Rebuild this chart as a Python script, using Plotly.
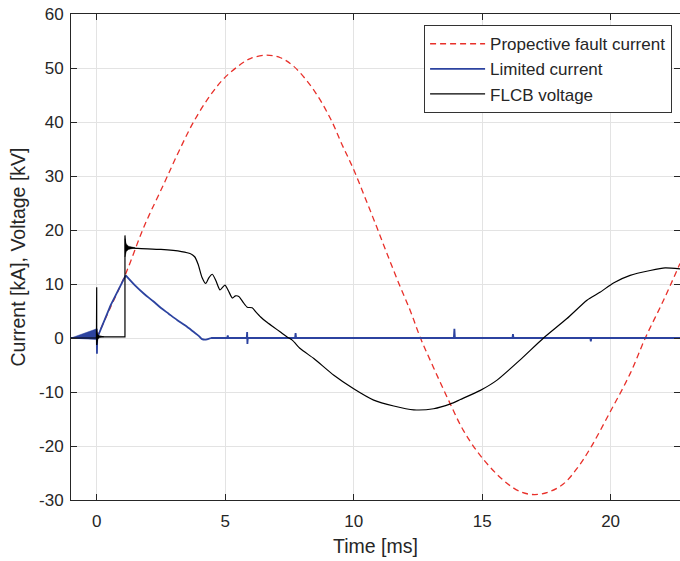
import plotly.graph_objects as go

# ---- data ----
red_t = [0.0, 0.5, 1.13, 1.84, 2.62, 3.2, 3.78, 4.43, 5.02, 5.73, 6.0, 6.6, 7.15, 7.67, 8.45, 9.1, 9.55,
         10.0, 10.46, 10.91, 11.3, 11.75, 12.2, 12.6, 13.11, 13.7, 14.28, 15.0, 15.84, 16.5, 17.05, 17.6,
         18.17, 18.7, 19.2, 19.98, 20.76, 21.35, 22.06, 22.7]
red_v = [0.0, 5.3, 11.9, 20.6, 28.6, 34.6, 40.1, 45.0, 48.4, 51.1, 51.8, 52.4, 51.9, 50.3, 45.9, 40.6, 35.8,
         31.2, 25.8, 20.4, 15.6, 10.2, 5.1, 0.0, -5.5, -11.6, -17.2, -22.2, -26.4, -28.5, -29.0, -28.5,
         -27.0, -24.1, -20.5, -13.7, -6.6, 0.0, 7.0, 13.8]

# limited current: rise, decay and the zero line with small spikes
blue_rise_t = [-1.0, -0.01, 0.0, 0.01, 0.02, 0.54, 1.13]
blue_rise_v = [0.0, 0.0, 1.7, -2.9, 0.0, 6.05, 11.6]
blue_decay_t = [1.13, 1.5, 1.84, 2.2, 2.49, 2.8, 3.14, 3.45, 3.78, 3.97, 4.1, 4.25, 4.45]
blue_decay_v = [11.6, 9.7, 8.2, 6.8, 5.6, 4.5, 3.3, 2.3, 1.1, 0.4, -0.2, -0.3, 0.0]
blue_tail_t = [4.45, 5.08, 5.1, 5.12, 5.84, 5.855, 5.865, 5.88, 7.72, 7.74, 7.76, 13.9, 13.92, 13.94,
               16.18, 16.2, 16.22, 19.21, 19.23, 19.25, 22.7]
blue_tail_v = [0.0, 0.0, 0.5, 0.0, 0.0, 1.1, -1.1, 0.0, 0.0, 0.9, 0.0, 0.0, 1.7, 0.0,
               0.0, 0.7, 0.0, 0.0, -0.6, 0.0, 0.0]
# dense oscillation before t=0 (envelope)
blue_env_t = [-1.0, 0.0, 0.0, -1.0]
blue_env_v = [0.0, 1.7, -0.3, 0.0]

# FLCB voltage: switching part and the smooth part after the jump
black_sw_t = [-1.0, -0.01, 0.0, 0.0, 0.03, 0.3, 1.08, 1.1, 1.1, 1.13]
black_sw_v = [0.0, 0.0, 9.4, -1.3, 0.4, 0.2, 0.2, 0.2, 19.0, 16.8]
black_t = [1.13, 1.6, 2.5, 3.3, 3.65, 3.82, 3.95, 4.1, 4.24, 4.37, 4.5, 4.64, 4.8, 4.99, 5.13, 5.28,
           5.4, 5.53, 5.7, 5.86, 6.05, 6.2, 6.38, 6.6, 6.89, 7.15, 7.41, 7.61, 7.93, 8.45, 9.23, 10.0,
           10.78, 11.56, 12.34, 13.11, 13.77, 14.15, 14.93, 15.58, 16.49, 17.39, 18.3, 19.08, 19.6,
           20.11, 20.76, 21.54, 22.12, 22.7]
black_v = [16.8, 16.6, 16.4, 16.0, 15.6, 15.0, 13.6, 11.2, 10.1, 11.2, 11.8, 10.6, 8.9, 9.8, 8.7, 7.4,
           7.8, 7.7, 6.6, 5.7, 5.6, 4.8, 3.9, 3.0, 2.0, 1.1, 0.2, -0.4, -2.0, -3.8, -6.9, -9.4,
           -11.5, -12.6, -13.3, -13.1, -12.2, -11.4, -9.7, -7.8, -4.0, 0.0, 3.6, 7.0, 8.5,
           10.2, 11.6, 12.5, 13.0, 12.8]
# ringing envelopes
black_ring1_t = [0.0, 0.04, 0.1, 0.28, 0.1, 0.04, 0.0, 0.0]
black_ring1_v = [1.4, 0.7, 0.35, 0.2, 0.05, -0.3, -1.3, 1.4]
black_ring2_t = [1.1, 1.15, 1.24, 1.5, 1.24, 1.15, 1.1, 1.1]
black_ring2_v = [18.4, 17.4, 17.0, 16.7, 16.4, 16.0, 15.0, 18.4]

x_ticks = [0, 5, 10, 15, 20]
x_ticktext = ["0", "5", "10", "15", "20"]
y_ticks = [-30, -20, -10, 0, 10, 20, 30, 40, 50, 60]
y_ticktext = ["-30", "-20", "-10", "0", "10", "20", "30", "40", "50", "60"]

RED = "#E8302A"
BLUE = "#2C43A0"
BLACK = "#000000"
FONT = "Liberation Sans, Arial, sans-serif"
TXT = "#262626"

fig = go.Figure()
fig.add_trace(go.Scatter(x=red_t, y=red_v, mode="lines", name="Propective fault current",
                         line=dict(color=RED, width=1.3, dash="6px,4px", shape="spline", smoothing=1.0)))
fig.add_trace(go.Scatter(x=blue_env_t, y=blue_env_v, mode="lines", fill="toself", fillcolor=BLUE,
                         line=dict(color=BLUE, width=0.5), showlegend=False, hoverinfo="skip",
                         legendgroup="blue"))
fig.add_trace(go.Scatter(x=blue_rise_t, y=blue_rise_v, mode="lines", name="Limited current",
                         line=dict(color=BLUE, width=1.8), legendgroup="blue"))
fig.add_trace(go.Scatter(x=blue_decay_t, y=blue_decay_v, mode="lines", showlegend=False,
                         line=dict(color=BLUE, width=1.8, shape="spline", smoothing=0.8), legendgroup="blue"))
fig.add_trace(go.Scatter(x=blue_tail_t, y=blue_tail_v, mode="lines", showlegend=False,
                         line=dict(color=BLUE, width=1.8), legendgroup="blue"))
fig.add_trace(go.Scatter(x=black_ring1_t, y=black_ring1_v, mode="lines", fill="toself", fillcolor=BLACK,
                         line=dict(color=BLACK, width=0.4), showlegend=False, hoverinfo="skip",
                         legendgroup="black"))
fig.add_trace(go.Scatter(x=black_ring2_t, y=black_ring2_v, mode="lines", fill="toself", fillcolor=BLACK,
                         line=dict(color=BLACK, width=0.4), showlegend=False, hoverinfo="skip",
                         legendgroup="black"))
fig.add_trace(go.Scatter(x=black_sw_t, y=black_sw_v, mode="lines", name="FLCB voltage",
                         line=dict(color=BLACK, width=1.2), legendgroup="black"))
fig.add_trace(go.Scatter(x=black_t, y=black_v, mode="lines", showlegend=False,
                         line=dict(color=BLACK, width=1.2, shape="spline", smoothing=0.6),
                         legendgroup="black"))

axis_common = dict(showline=True, linecolor=TXT, linewidth=1, mirror="ticks", ticks="inside",
                   ticklen=6, tickcolor=TXT, showgrid=True, gridcolor="#E3E3E3", gridwidth=1,
                   zeroline=False, tickfont=dict(family=FONT, size=17, color=TXT))

fig.update_layout(
    width=680, height=561,
    margin=dict(l=71, r=0, t=14, b=61),
    paper_bgcolor="white", plot_bgcolor="white",
    font=dict(family=FONT, size=17, color=TXT),
    xaxis=dict(range=[-1, 22.7], tickmode="array", tickvals=x_ticks, ticktext=x_ticktext,
               title=dict(text="Time [ms]", font=dict(family=FONT, size=19.5, color=TXT), standoff=8),
               ticklabelstandoff=6, **axis_common),
    yaxis=dict(range=[-30, 60], tickmode="array", tickvals=y_ticks, ticktext=y_ticktext,
               title=dict(text="Current [kA], Voltage [kV]", font=dict(family=FONT, size=19.5, color=TXT), standoff=8),
               ticklabelstandoff=3, **axis_common),
    legend=dict(x=0.987, xanchor="right", y=0.977, yanchor="top", bgcolor="white",
                bordercolor="#333333", borderwidth=1, font=dict(family=FONT, size=17, color=TXT),
                tracegroupgap=0, itemwidth=55),
    showlegend=True,
)

fig.write_html("out.html")
